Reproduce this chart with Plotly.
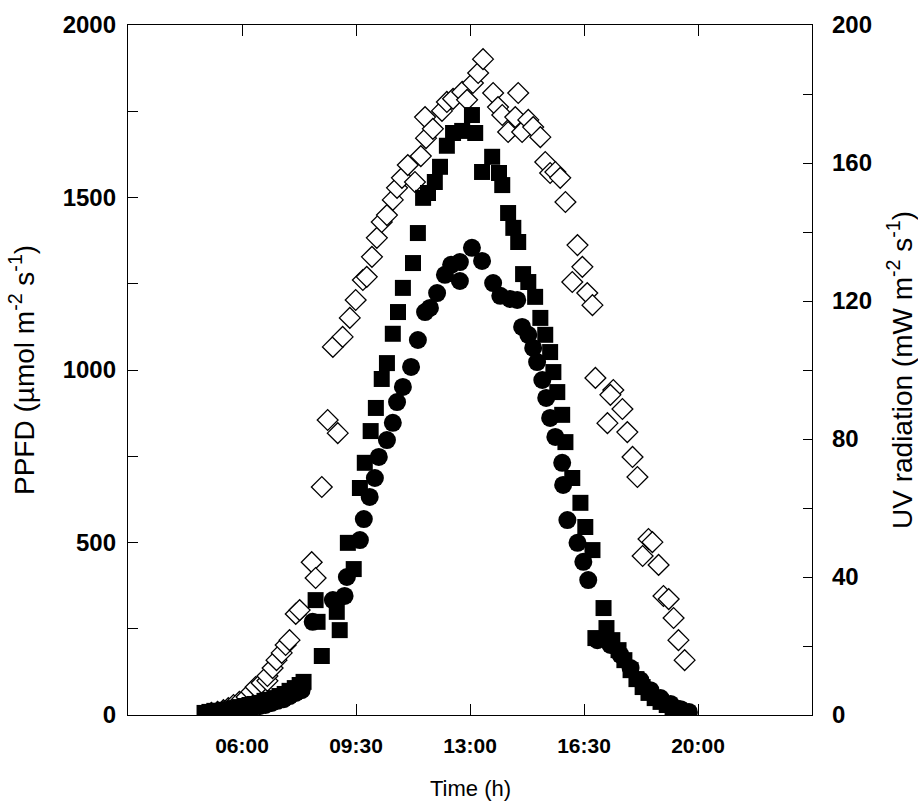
import plotly.graph_objects as go

# ---------------- data ----------------
# Time in decimal hours
x_tickvals = [6, 9.5, 13, 16.5, 20]
x_ticktext = ["06:00", "09:30", "13:00", "16:30", "20:00"]

# UV radiation (open diamonds, right axis, mW m-2 s-1)
uv_time = [5.06, 5.25, 5.43, 5.58, 5.74, 5.92, 6.14, 6.29, 6.42, 6.60, 6.78, 6.78, 6.94, 7.06, 7.22, 7.34,
           7.46, 7.65, 7.77, 8.14, 8.26, 8.45, 8.63, 8.94, 8.79, 9.09, 9.31, 9.49, 9.71, 9.83, 9.99, 10.14,
           10.29, 10.45, 10.63, 10.76, 10.91, 11.09, 11.31, 11.49, 11.65, 11.62, 11.86, 12.14, 12.29, 12.48,
           12.76, 12.91, 13.09, 13.25, 13.40, 13.71, 13.86, 13.99, 14.17, 14.39, 14.48, 14.60, 14.79, 14.94,
           15.16, 15.31, 15.46, 15.62, 15.77, 15.93, 16.30, 16.45, 16.14, 16.60, 16.76, 16.85, 17.40, 17.31,
           17.68, 17.22, 17.83, 17.99, 18.14, 18.48, 18.60, 18.30, 18.79, 18.94, 19.10, 19.25, 19.40, 19.59]
uv_value = [0.6, 0.9, 1.4, 2.0, 2.9, 3.8, 5.2, 6.7, 8.1, 9.3, 9.9, 11.3, 13.6, 15.9, 18.0, 20.3,
            21.7, 29.3, 30.4, 44.3, 39.7, 66.1, 85.5, 81.7, 106.7, 109.6, 115.1, 120.3, 126.1, 127.0, 132.8, 138.3,
            142.9, 144.9, 149.3, 152.8, 155.7, 159.4, 154.5, 162.0, 167.2, 173.3, 169.9, 175.1, 177.7, 178.6,
            180.6, 178.3, 183.2, 186.1, 190.1, 180.3, 176.2, 173.9, 169.0, 173.3, 180.3, 169.0, 172.5, 170.4,
            167.5, 160.3, 157.1, 157.4, 155.7, 148.7, 136.2, 129.9, 125.5, 122.3, 118.8, 97.7, 94.2, 92.8,
            88.7, 84.6, 82.0, 74.8, 69.0, 51.0, 50.1, 46.1, 43.5, 34.5, 33.6, 28.1, 21.7, 15.9]

# PPFD series 1 (filled squares, left axis, umol m-2 s-1)
sq_time = [4.85, 5.00, 5.15, 5.31, 5.46, 5.62, 5.77, 5.92, 6.08, 6.23, 6.38, 6.54, 6.69, 6.85, 7.00, 7.15,
           7.31, 7.46, 7.62, 7.77, 7.89,
           8.26, 8.32, 8.45, 8.91, 9.00,
           9.25, 9.43, 9.62, 9.77, 9.95, 10.11, 10.29, 10.45, 10.63, 10.79, 10.94, 11.25, 11.40, 11.56, 11.71,
           11.92, 12.08, 12.29, 12.48, 12.76, 13.06, 13.16, 13.37, 13.68, 13.89, 13.99, 14.17, 14.33, 14.48,
           14.63, 14.79, 15.00, 15.16, 15.31, 15.46, 15.56, 15.68, 15.83, 15.93, 16.14, 16.39, 16.54, 16.76,
           16.85, 17.10, 17.19, 17.37, 17.56, 17.74, 17.93, 18.11, 18.30, 18.48, 18.67, 18.85, 19.04, 19.22,
           19.40, 19.59]
sq_value = [6, 9, 12, 12, 15, 17, 20, 23, 26, 29, 32, 35, 41, 44, 49, 55,
            61, 70, 78, 87, 96,
            333, 270, 171, 299, 246,
            499, 423, 658, 731, 823, 890, 974, 1020, 1105, 1168, 1238, 1310, 1397, 1499, 1513,
            1545, 1589, 1650, 1687, 1693, 1739, 1687, 1574, 1618, 1571, 1536, 1455, 1412, 1371,
            1278, 1255, 1212, 1151, 1102, 1052, 994, 936, 870, 791, 687, 615, 545, 478,
            223, 310, 252, 217, 188, 159, 130, 104, 81, 64, 49, 38, 29, 20,
            14, 9]

# PPFD series 2 (filled circles, left axis, umol m-2 s-1)
ci_time = [4.91, 5.06, 5.25, 5.43, 5.62, 5.80, 5.98, 6.17, 6.35, 6.54, 6.72, 6.91, 7.09, 7.28, 7.46, 7.65, 7.83,
           8.17, 8.79, 9.15,
           9.22, 9.62, 9.74, 9.92, 10.08, 10.20, 10.45, 10.63, 10.76, 10.94, 11.19, 11.40, 11.62, 11.77, 11.99,
           12.23, 12.42, 12.69, 12.69, 13.06, 13.37, 13.71, 13.93, 14.23, 14.45, 14.60, 14.79, 14.94, 15.06,
           15.22, 15.34, 15.46, 15.62, 15.83, 15.86, 15.99, 16.30, 16.48, 16.63,
           16.91, 17.31, 17.62, 17.93, 18.23, 18.54, 18.85, 19.16, 19.47, 19.72]
ci_value = [3, 6, 6, 9, 12, 14, 17, 20, 23, 26, 29, 35, 41, 46, 55, 64, 72,
            270, 333, 345,
            400, 507, 568, 632, 687, 748, 797, 847, 907, 951, 1009, 1087, 1168, 1180, 1223,
            1276, 1305, 1313, 1258, 1354, 1316, 1252, 1215, 1206, 1203, 1125, 1102, 1064, 1023,
            971, 919, 861, 806, 731, 667, 565, 499, 444, 391,
            217, 203, 174, 136, 101, 72, 49, 32, 17, 9]

# ---------------- figure ----------------
FONT = "Liberation Sans, Arial, sans-serif"
AXC = "black"

fig = go.Figure()
fig.add_trace(go.Scatter(
    x=uv_time, y=uv_value, mode="markers", yaxis="y", name="UV",
    marker=dict(symbol="diamond", size=16, color="white", line=dict(color="black", width=1.3)),
))
fig.add_trace(go.Scatter(
    x=ci_time, y=ci_value, mode="markers", yaxis="y2", name="PPFD circles",
    marker=dict(symbol="circle", size=18, color="black", line=dict(width=0)),
))
fig.add_trace(go.Scatter(
    x=sq_time, y=sq_value, mode="markers", yaxis="y2", name="PPFD squares",
    marker=dict(symbol="square", size=16, color="black", line=dict(width=0)),
))

ytickfont = dict(family=FONT, size=24, color="black", weight="bold")
xtickfont = dict(family=FONT, size=21, color="black", weight="bold")

fig.update_layout(
    width=918, height=804,
    margin=dict(l=128, r=106, t=25, b=89),
    paper_bgcolor="white", plot_bgcolor="white",
    showlegend=False,
    xaxis=dict(
        range=[2.5, 23.5], tickmode="array", tickvals=x_tickvals, ticktext=x_ticktext,
        ticks="inside", ticklen=11, tickwidth=1.2, tickcolor=AXC,
        showline=True, linecolor=AXC, linewidth=1.3, mirror="ticks",
        showgrid=False, zeroline=False, tickfont=xtickfont, ticklabelstandoff=12,
    ),
    yaxis=dict(
        side="right", range=[0, 200], tickmode="linear", tick0=0, dtick=40,
        ticks="inside", ticklen=9, tickwidth=1.2, tickcolor=AXC,
        minor=dict(tick0=0, dtick=20, ticks="inside", ticklen=9, tickwidth=1.2, tickcolor=AXC, showgrid=False),
        showline=True, linecolor=AXC, linewidth=1.3,
        showgrid=False, zeroline=False, tickfont=ytickfont, ticklabelstandoff=14,
    ),
    yaxis2=dict(
        side="left", overlaying="y", range=[0, 2000], tickmode="linear", tick0=0, dtick=500,
        ticks="inside", ticklen=10, tickwidth=1.2, tickcolor=AXC,
        minor=dict(tick0=0, dtick=250, ticks="inside", ticklen=10, tickwidth=1.2, tickcolor=AXC, showgrid=False),
        showline=True, linecolor=AXC, linewidth=1.3,
        showgrid=False, zeroline=False, tickfont=ytickfont, ticklabelstandoff=6,
    ),
    annotations=[
        dict(text="PPFD (µmol m<sup>-2</sup> s<sup>-1</sup>)", xref="paper", yref="paper",
             x=0, y=0.5, xshift=-106, textangle=-90, showarrow=False,
             xanchor="center", yanchor="middle", font=dict(family=FONT, size=28, color="black")),
        dict(text="UV radiation (mW m<sup>-2</sup> s<sup>-1</sup>)", xref="paper", yref="paper",
             x=1, y=0.5, xshift=88, textangle=-90, showarrow=False,
             xanchor="center", yanchor="middle", font=dict(family=FONT, size=28, color="black")),
        dict(text="Time (h)", xref="paper", yref="paper",
             x=0.5, y=0, yshift=-73, showarrow=False,
             xanchor="center", yanchor="middle", font=dict(family=FONT, size=22, color="black")),
    ],
)

fig.write_html("out.html")
